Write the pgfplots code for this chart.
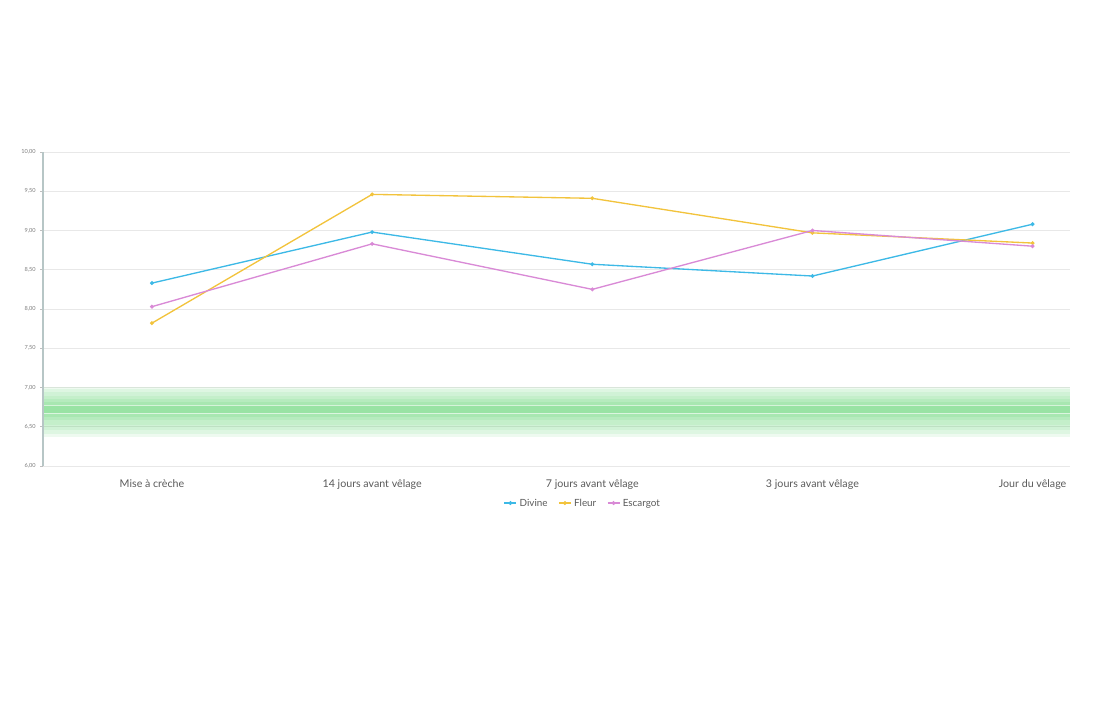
\documentclass[border=0pt]{standalone}
\usepackage{pgfplots}
\pgfplotsset{compat=1.18}
\usepackage{fontspec}
\setmainfont{Lato}
\definecolor{cDiv}{HTML}{3DB9E6}
\definecolor{cFle}{HTML}{F2C33C}
\definecolor{cEsc}{HTML}{D98AD6}
\definecolor{cBand}{HTML}{55D068}
\definecolor{txt}{HTML}{5A5A5A}
\begin{document}
\begin{tikzpicture}
\begin{axis}[
  name=ax,
  scale only axis,
  width=770.25pt, height=235.5pt,
  xmin=-0.495, xmax=4.17,
  ymin=6, ymax=10,
  clip=false,
  axis line style={draw=none},
  axis y line*=left,
  axis x line*=bottom,
  xtick={0,1,2,3,4},
  xticklabels={Mise à crèche,14 jours avant vêlage,7 jours avant vêlage,3 jours avant vêlage,Jour du vêlage},
  xticklabel style={font=\fontsize{8}{9}\selectfont, text=txt, yshift=-5pt},
  x tick style={draw=none},
  ytick={6,6.5,7,7.5,8,8.5,9,9.5,10},
  yticklabel style={font=\fontsize{4.2}{5}\selectfont, text=txt!80, /pgf/number format/.cd, fixed, fixed zerofill, precision=2, use comma},
  /pgf/number format/assume math mode=true,
  ymajorgrids,
  grid style={draw=gray!18, line width=0.5pt},
  major tick length=2pt,
  y tick style={draw=gray!50, line width=0.4pt},
  tick align=outside,
  legend style={at={(0.526,-0.118)}, anchor=center, draw=none, fill=none, legend columns=-1, font=\fontsize{7.4}{8}\selectfont\color{txt}, nodes={text depth=0pt}, /tikz/every even column/.append style={column sep=6pt}},
  legend image code/.code={\draw[#1, line width=0.9pt] (0pt,0pt) -- (9pt,0pt); \fill[#1] (4.5pt,0pt) circle (0.9pt);},
]
% green band
\addplot[draw=none, fill=cBand, fill opacity=0.10, forget plot] coordinates {(-0.495,6.37) (4.17,6.37) (4.17,7.01) (-0.495,7.01)} -- cycle;
\addplot[draw=none, fill=cBand, fill opacity=0.10, forget plot] coordinates {(-0.495,6.41) (4.17,6.41) (4.17,6.98) (-0.495,6.98)} -- cycle;
\addplot[draw=none, fill=cBand, fill opacity=0.10, forget plot] coordinates {(-0.495,6.46) (4.17,6.46) (4.17,6.94) (-0.495,6.94)} -- cycle;
\addplot[draw=none, fill=cBand, fill opacity=0.10, forget plot] coordinates {(-0.495,6.52) (4.17,6.52) (4.17,6.89) (-0.495,6.89)} -- cycle;
\addplot[draw=none, fill=cBand, fill opacity=0.12, forget plot] coordinates {(-0.495,6.58) (4.17,6.58) (4.17,6.85) (-0.495,6.85)} -- cycle;
\addplot[draw=none, fill=cBand, fill opacity=0.15, forget plot] coordinates {(-0.495,6.63) (4.17,6.63) (4.17,6.82) (-0.495,6.82)} -- cycle;
\addplot[draw=none, fill=cBand, fill opacity=0.18, forget plot] coordinates {(-0.495,6.675) (4.17,6.675) (4.17,6.777) (-0.495,6.777)} -- cycle;
\addplot[draw=white, opacity=0.6, line width=0.6pt, forget plot] coordinates {(-0.495,6.777) (4.17,6.777)};
\addplot[draw=white, opacity=0.6, line width=0.6pt, forget plot] coordinates {(-0.495,6.675) (4.17,6.675)};
% y axis line
\addplot[draw=teal!25!gray!45, line width=1.3pt, forget plot] coordinates {(-0.495,6) (-0.495,10)};
% series
\addplot[cDiv, line width=1pt, mark=*, mark size=0.9pt] coordinates {(0,8.33) (1,8.98) (2,8.57) (3,8.42) (4,9.08)};
\addlegendentry{Divine}
\addplot[cFle, line width=1pt, mark=*, mark size=0.9pt] coordinates {(0,7.82) (1,9.46) (2,9.41) (3,8.97) (4,8.84)};
\addlegendentry{Fleur}
\addplot[cEsc, line width=1pt, mark=*, mark size=0.9pt] coordinates {(0,8.03) (1,8.83) (2,8.25) (3,9.00) (4,8.80)};
\addlegendentry{Escargot}
\end{axis}
\path[use as bounding box] ([xshift=-32.25pt,yshift=-185.25pt]ax.south west) rectangle ([xshift=24pt,yshift=114pt]ax.north east);
\end{tikzpicture}
\end{document}
